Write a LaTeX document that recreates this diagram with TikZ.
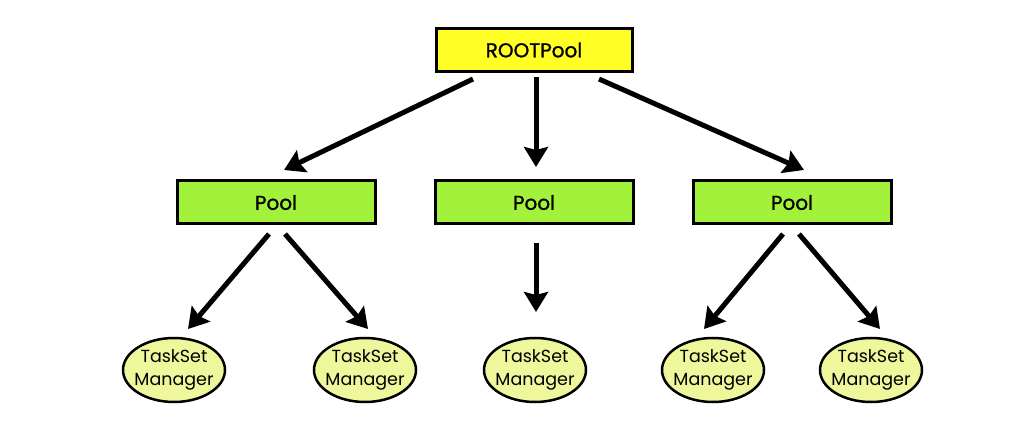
\documentclass[tikz,border=0pt]{standalone}
\usepackage{fontspec}
\setmainfont{Poppins}
\newfontfamily\medfont{Poppins}[UprightFeatures={FakeBold=1.2}]
\usetikzlibrary{arrows.meta,shapes.geometric}
\definecolor{rootyellow}{HTML}{FFFF26}
\definecolor{poolgreen}{HTML}{A2F23C}
\definecolor{tsmfill}{HTML}{EEF79C}
\tikzset{
  rootbox/.style={draw=black, line width=3pt, fill=rootyellow, minimum width=196pt, minimum height=43pt, inner sep=0pt, font=\medfont\fontsize{20}{22}\selectfont},
  poolbox/.style={draw=black, line width=3pt, fill=poolgreen, minimum width=198pt, minimum height=43pt, inner sep=0pt, font=\medfont\fontsize{20}{22}\selectfont},
  tsm/.style={ellipse, draw=black, line width=2.5pt, fill=tsmfill, minimum width=102pt, minimum height=64pt, inner sep=-8pt, align=center, font=\fontsize{17.5}{23}\selectfont},
  conn/.style={line width=5pt, -{Stealth[length=20pt,width=24pt,inset=3pt]}},
}
\begin{document}
\begin{tikzpicture}[x=1pt,y=-1pt]
\useasboundingbox (0,0) rectangle (1034,438);
\node[rootbox] (root) at (534,50) {ROOTPool};
\node[poolbox] (p1) at (276,202.5) {Pool};
\node[poolbox] (p2) at (534,202.5) {Pool};
\node[poolbox] (p3) at (792,202.5) {Pool};
\node[tsm] (t1) at (174,370) {TaskSet\\Manager};
\node[tsm] (t2) at (365,370) {TaskSet\\Manager};
\node[tsm] (t3) at (535,370) {TaskSet\\Manager};
\node[tsm] (t4) at (713,370) {TaskSet\\Manager};
\node[tsm] (t5) at (871,370) {TaskSet\\Manager};
\coordinate (r1s) at (473,79); \coordinate (r1e) at (284,170);
\coordinate (r2s) at (536,77); \coordinate (r2e) at (536,167);
\coordinate (r3s) at (599,79); \coordinate (r3e) at (804,170);
\coordinate (a1s) at (269,234); \coordinate (a1e) at (188,329);
\coordinate (a2s) at (285,234); \coordinate (a2e) at (368,329);
\coordinate (a3s) at (536,243); \coordinate (a3e) at (536,312);
\coordinate (a4s) at (783,234); \coordinate (a4e) at (704,329);
\coordinate (a5s) at (799,234); \coordinate (a5e) at (880,329);
\draw[conn] (r1s) -- (r1e);
\draw[conn] (r2s) -- (r2e);
\draw[conn] (r3s) -- (r3e);
\draw[conn] (a1s) -- (a1e);
\draw[conn] (a2s) -- (a2e);
\draw[conn] (a3s) -- (a3e);
\draw[conn] (a4s) -- (a4e);
\draw[conn] (a5s) -- (a5e);
\end{tikzpicture}
\end{document}
